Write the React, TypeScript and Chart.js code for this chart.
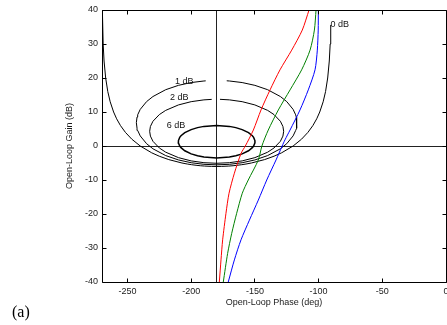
import { useEffect, useRef } from "react";
import { Chart, registerables } from "chart.js";

Chart.register(...registerables);

// Axis ticks
const phaseTicks = [-250, -200, -150, -100, -50, 0];
const gainTicks = [-40, -30, -20, -10, 0, 10, 20, 30, 40];

// Open-loop responses (phase in deg, gain in dB)
const redPhase = [-177.9, -176.6, -175.3, -172.7, -170.3, -166.1, -160.9, -157.5, -151.2, -145.2, -138.1, -130.3, -121.1, -112.8, -107.5];
const redGain = [-40, -33.5, -27.6, -19.8, -13.9, -8, -2.2, 0, 4.7, 10.6, 16.5, 22.4, 28.2, 34.1, 40];

const greenPhase = [-174.8, -171.4, -168.2, -164.3, -159.9, -155.2, -147.3, -144.5, -139.5, -131.6, -122.4, -113.3, -106.7, -103.3, -102];
const greenGain = [-40, -31.6, -25.7, -19.8, -13.9, -10, -4.1, 0, 4.7, 10.6, 16.5, 22.4, 28.2, 34.1, 40];

const bluePhase = [-170.9, -166.1, -160.9, -154.3, -147.3, -140.7, -133.4, -128.6, -126.4, -122.4, -114.6, -108.1, -102.8, -101, -100.3, -100.2];
const blueGain = [-40, -33.5, -27.6, -21.8, -15.9, -10, -4.1, 0, 1.8, 4.7, 10.6, 16.5, 22.4, 28.2, 34.1, 40];

// Closed-loop magnitude contours
const m0Phase = [-269.77, -269.71, -269.09, -268.39, -267.13, -265.46, -263.57, -260.9, -258.52, -255.49, -251.61, -246.6, -240, -230.99, -225.07, -217.59, -207.22, -203.02, -199.64, -195.47, -192.86, -189.53, -183.95, -180, -176.05, -170.47, -167.14, -164.53, -160.36, -156.98, -152.78, -142.41, -134.93, -129.01, -120, -113.4, -108.39, -104.51, -101.48, -99.1, -96.43, -94.54, -92.87, -91.61, -90.91, -90.48];
const m0Gain = [42, 40, 30, 25, 20, 16, 13, 10, 8, 6, 4, 2, 0, -2, -3, -4, -5, -5.3, -5.5, -5.7, -5.8, -5.9, -6, -6.02, -6, -5.9, -5.8, -5.7, -5.5, -5.3, -5, -4, -3, -2, 0, 2, 4, 6, 8, 10, 13, 16, 20, 25, 30, 35.6];

const m1Phase = [-172.1, -170, -160, -150, -140, -130, -125, -120, -118, -117.5, -116.96, -117.5, -118, -120, -125, -130, -140, -150, -160, -170, -180, -190, -200, -210, -220, -230, -235, -240, -242, -242.5, -243.04, -242.5, -242, -240, -235, -230, -220, -210, -200, -190, -188.6];
const m1Gain = [19.18, 19.12, 18.66, 17.84, 16.56, 14.55, 13.06, 10.77, 9.17, 8.52, 6.87, 5.22, 4.57, 2.97, 0.68, -0.82, -2.82, -4.1, -4.92, -5.39, -5.54, -5.39, -4.92, -4.1, -2.82, -0.82, 0.68, 2.97, 4.57, 5.22, 6.87, 8.52, 9.17, 10.77, 13.06, 14.55, 16.56, 17.84, 18.66, 19.12, 19.16];

const m2Phase = [-177.4, -170, -160, -150, -140, -135, -130, -128, -127.41, -128, -130, -135, -140, -150, -160, -170, -180, -190, -200, -210, -220, -225, -230, -232, -232.59, -232, -230, -225, -220, -210, -200, -190, -183.9];
const m2Gain = [13.73, 13.57, 13.04, 12.08, 10.48, 9.24, 7.28, 5.75, 4.33, 2.91, 1.38, -0.58, -1.82, -3.42, -4.38, -4.91, -5.08, -4.91, -4.38, -3.42, -1.82, -0.58, 1.38, 2.91, 4.33, 5.75, 7.28, 9.24, 10.48, 12.08, 13.04, 13.57, 13.71];

const m6Phase = [-210.08, -210, -209, -208, -205, -200, -195, -190, -180, -170, -165, -160, -155, -152, -151, -150, -149.92, -150, -151, -152, -155, -160, -165, -170, -180, -190, -195, -200, -205, -208, -209, -210, -210.08];
const m6Gain = [1.26, 1.6, 2.53, 3.01, 3.92, 4.83, 5.41, 5.77, 6.04, 5.77, 5.41, 4.83, 3.92, 3.01, 2.53, 1.6, 1.26, 0.91, -0.02, -0.49, -1.41, -2.32, -2.89, -3.26, -3.53, -3.26, -2.89, -2.32, -1.41, -0.49, -0.02, 0.91, 1.26];

// Contour labels, anchored in (phase, gain)
const contourLabels = ["0 dB", "1 dB", "2 dB", "6 dB"];
const contourLabelPhase = [-90.7, -212.7, -216.6, -219.2];
const contourLabelGain = [35.6, 19.1, 14.3, 6.0];

const FONT = '"Liberation Sans", Arial, Helvetica, sans-serif';

const toPoints = (xs: number[], ys: number[]) => xs.map((x, i) => ({ x, y: ys[i] }));

const line = (xs: number[], ys: number[], color: string, width = 1, tension = 0) => ({
  data: toPoints(xs, ys),
  showLine: true,
  borderColor: color,
  backgroundColor: color,
  borderWidth: width,
  pointRadius: 0,
  tension,
  fill: false,
});

const framePlugin = {
  id: "nicholsFrame",
  beforeDatasetsDraw(chart: any) {
    const { ctx, chartArea: a, scales } = chart;
    const px = (v: number) => Math.floor(v) + 0.5;
    const xr = px(scales.x.getPixelForValue(-180));
    const y0 = px(scales.y.getPixelForValue(0));
    ctx.save();
    ctx.strokeStyle = "#222";
    ctx.lineWidth = 1;
    ctx.beginPath();
    ctx.moveTo(xr, a.top);
    ctx.lineTo(xr, a.bottom);
    ctx.moveTo(a.left, y0);
    ctx.lineTo(a.right, y0);
    ctx.stroke();
    ctx.restore();
  },
  afterDatasetsDraw(chart: any) {
    const { ctx, scales } = chart;
    ctx.save();
    ctx.fillStyle = "#111";
    ctx.font = `9px ${FONT}`;
    ctx.textAlign = "left";
    ctx.textBaseline = "middle";
    contourLabels.forEach((t, i) => {
      ctx.fillText(t, scales.x.getPixelForValue(contourLabelPhase[i]), scales.y.getPixelForValue(contourLabelGain[i]));
    });
    ctx.restore();
  },
  afterDraw(chart: any) {
    const { ctx, chartArea: a, scales } = chart;
    const px = (v: number) => Math.floor(v) + 0.5;
    const L = px(a.left), R = px(a.right), T = px(a.top), B = px(a.bottom);
    const len = 4;
    ctx.save();
    ctx.strokeStyle = "#000";
    ctx.lineWidth = 1;
    ctx.beginPath();
    ctx.rect(L, T, R - L, B - T);
    phaseTicks.forEach((v) => {
      const x = px(scales.x.getPixelForValue(v));
      ctx.moveTo(x, B);
      ctx.lineTo(x, B - len);
      ctx.moveTo(x, T);
      ctx.lineTo(x, T + len);
    });
    gainTicks.forEach((v) => {
      const y = px(scales.y.getPixelForValue(v));
      ctx.moveTo(L, y);
      ctx.lineTo(L + len, y);
      ctx.moveTo(R, y);
      ctx.lineTo(R - len, y);
    });
    ctx.stroke();
    ctx.fillStyle = "#000";
    ctx.font = '16px "Liberation Serif", "Times New Roman", serif';
    ctx.textAlign = "left";
    ctx.textBaseline = "alphabetic";
    ctx.fillText("(a)", 12, 317);
    ctx.restore();
  },
};

export default function App() {
  const canvasRef = useRef<HTMLCanvasElement | null>(null);

  useEffect(() => {
    const canvas = canvasRef.current;
    if (!canvas) return;
    const chart = new Chart(canvas, {
      type: "scatter",
      data: {
        datasets: [
          line(redPhase, redGain, "#ff0000", 1, 0.25),
          line(greenPhase, greenGain, "#008000", 1, 0.25),
          line(bluePhase, blueGain, "#0000ff", 1, 0.25),
          line(m6Phase, m6Gain, "#000", 1.5),
          line(m2Phase, m2Gain, "#000"),
          line(m1Phase, m1Gain, "#000"),
          line(m0Phase, m0Gain, "#000"),
        ] as any,
      },
      options: {
        animation: false,
        responsive: false,
        devicePixelRatio: 1,
        layout: { padding: { left: 0, top: 10, right: 1, bottom: 0 } },
        plugins: { legend: { display: false }, tooltip: { enabled: false } },
        events: [],
        scales: {
          x: {
            type: "linear",
            position: "bottom",
            min: -270,
            max: 0,
            grid: { display: false, drawTicks: false },
            border: { display: false },
            afterBuildTicks: (axis: any) => {
              axis.ticks = phaseTicks.map((v) => ({ value: v }));
            },
            afterFit: (axis: any) => {
              axis.height = 43;
              axis.paddingLeft = 0;
              axis.paddingRight = 0;
            },
            ticks: {
              autoSkip: false,
              maxRotation: 0,
              padding: 4,
              color: "#1a1a1a",
              font: { family: FONT, size: 9 },
            },
            title: {
              display: true,
              text: "Open-Loop Phase (deg)",
              color: "#1a1a1a",
              font: { family: FONT, size: 9 },
              padding: { top: 0, bottom: 16.6 },
            },
          },
          y: {
            type: "linear",
            position: "left",
            min: -40,
            max: 40,
            grid: { display: false, drawTicks: false },
            border: { display: false },
            afterBuildTicks: (axis: any) => {
              axis.ticks = gainTicks.map((v) => ({ value: v }));
            },
            afterFit: (axis: any) => {
              axis.width = 102;
              axis.paddingTop = 0;
              axis.paddingBottom = 0;
            },
            ticks: {
              autoSkip: false,
              padding: 4,
              color: "#1a1a1a",
              font: { family: FONT, size: 9 },
            },
            title: {
              display: true,
              text: "Open-Loop Gain (dB)",
              color: "#1a1a1a",
              font: { family: FONT, size: 9 },
              padding: { top: 64.6, bottom: 0 },
            },
          },
        },
      } as any,
      plugins: [framePlugin],
    });
    return () => chart.destroy();
  }, []);

  return (
    <div style={{ position: "fixed", left: 0, top: 0, width: 447, height: 325, background: "#fff" }}>
      <canvas ref={canvasRef} width={447} height={325} style={{ display: "block" }} />
    </div>
  );
}
